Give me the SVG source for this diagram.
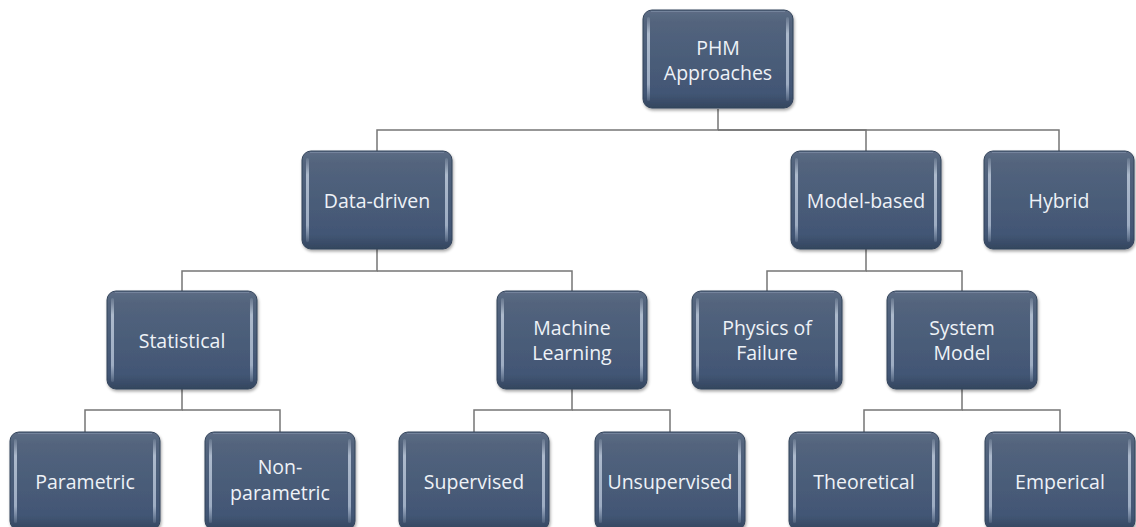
<svg xmlns="http://www.w3.org/2000/svg" xmlns:xlink="http://www.w3.org/1999/xlink" width="1136" height="527" viewBox="0 0 1136 527">
  <style>
    .conn { fill: none; stroke: #767676; stroke-width: 1.5; }
    .lbl { font-family: "Open Sans", "Noto Sans", "Liberation Sans", sans-serif; font-size: 19.5px; fill: #eef2f7; text-anchor: middle; }
  </style>
  <defs>
    <linearGradient id="body" x1="0" y1="0" x2="0" y2="1">
      <stop offset="0" stop-color="#5d6d85"/>
      <stop offset="0.12" stop-color="#53647d"/>
      <stop offset="0.85" stop-color="#425675"/>
      <stop offset="1" stop-color="#34465f"/>
    </linearGradient>
    <linearGradient id="hl" x1="0" y1="0" x2="0" y2="1">
      <stop offset="0" stop-color="#c4d0e0" stop-opacity="0.15"/>
      <stop offset="0.2" stop-color="#c4d0e0" stop-opacity="0.8"/>
      <stop offset="0.8" stop-color="#b4c2d6" stop-opacity="0.8"/>
      <stop offset="1" stop-color="#b4c2d6" stop-opacity="0.15"/>
    </linearGradient>
    <filter id="sh" x="-10%" y="-10%" width="125%" height="125%">
      <feDropShadow dx="1" dy="2" stdDeviation="1.5" flood-color="#000" flood-opacity="0.35"/>
    </filter>
    <g id="box">
      <rect x="0" y="0" width="150" height="98" rx="9" fill="url(#body)" stroke="#33445b" stroke-width="1" filter="url(#sh)"/>
      <path d="M8 1.5 H142" stroke="#8494ab" stroke-width="1" opacity="0.6" fill="none"/>
      <rect x="4" y="7" width="3" height="84" rx="1.5" fill="url(#hl)"/>
      <rect x="143" y="7" width="3" height="84" rx="1.5" fill="url(#hl)"/>
    </g>
  </defs>
  <rect width="1136" height="527" fill="#ffffff"/>

  <g id="connectors">
    <path class="conn" d="M718 109 V130 H377 V151"/>
    <path class="conn" d="M718 130 H866 V151"/>
    <path class="conn" d="M718 130 H1059 V151"/>
    <path class="conn" d="M377 249 V271 H182 V291"/>
    <path class="conn" d="M377 271 H572 V291"/>
    <path class="conn" d="M866 249 V271 H767 V291"/>
    <path class="conn" d="M866 271 H962 V291"/>
    <path class="conn" d="M182 389 V410 H85 V432"/>
    <path class="conn" d="M182 410 H280 V432"/>
    <path class="conn" d="M572 389 V410 H474 V432"/>
    <path class="conn" d="M572 410 H670 V432"/>
    <path class="conn" d="M962 389 V410 H864 V432"/>
    <path class="conn" d="M962 410 H1060 V432"/>
  </g>

  <g id="node-phm" transform="translate(643,10)">
    <use xlink:href="#box"/>
    <text class="lbl" x="75" y="45">PHM</text>
    <text class="lbl" x="75" y="70">Approaches</text>
  </g>
  <g id="node-data-driven" transform="translate(302,151)">
    <use xlink:href="#box"/>
    <text class="lbl" x="75" y="57">Data-driven</text>
  </g>
  <g id="node-model-based" transform="translate(791,151)">
    <use xlink:href="#box"/>
    <text class="lbl" x="75" y="57">Model-based</text>
  </g>
  <g id="node-hybrid" transform="translate(984,151)">
    <use xlink:href="#box"/>
    <text class="lbl" x="75" y="57">Hybrid</text>
  </g>
  <g id="node-statistical" transform="translate(107,291)">
    <use xlink:href="#box"/>
    <text class="lbl" x="75" y="57">Statistical</text>
  </g>
  <g id="node-ml" transform="translate(497,291)">
    <use xlink:href="#box"/>
    <text class="lbl" x="75" y="44">Machine</text>
    <text class="lbl" x="75" y="69">Learning</text>
  </g>
  <g id="node-physics" transform="translate(692,291)">
    <use xlink:href="#box"/>
    <text class="lbl" x="75" y="44">Physics of</text>
    <text class="lbl" x="75" y="69">Failure</text>
  </g>
  <g id="node-system" transform="translate(887,291)">
    <use xlink:href="#box"/>
    <text class="lbl" x="75" y="44">System</text>
    <text class="lbl" x="75" y="69">Model</text>
  </g>
  <g id="node-parametric" transform="translate(10,432)">
    <use xlink:href="#box"/>
    <text class="lbl" x="75" y="57">Parametric</text>
  </g>
  <g id="node-nonparametric" transform="translate(205,432)">
    <use xlink:href="#box"/>
    <text class="lbl" x="75" y="42">Non-</text>
    <text class="lbl" x="75" y="68">parametric</text>
  </g>
  <g id="node-supervised" transform="translate(399,432)">
    <use xlink:href="#box"/>
    <text class="lbl" x="75" y="57">Supervised</text>
  </g>
  <g id="node-unsupervised" transform="translate(595,432)">
    <use xlink:href="#box"/>
    <text class="lbl" x="75" y="57">Unsupervised</text>
  </g>
  <g id="node-theoretical" transform="translate(789,432)">
    <use xlink:href="#box"/>
    <text class="lbl" x="75" y="57">Theoretical</text>
  </g>
  <g id="node-emperical" transform="translate(985,432)">
    <use xlink:href="#box"/>
    <text class="lbl" x="75" y="57">Emperical</text>
  </g>
</svg>
